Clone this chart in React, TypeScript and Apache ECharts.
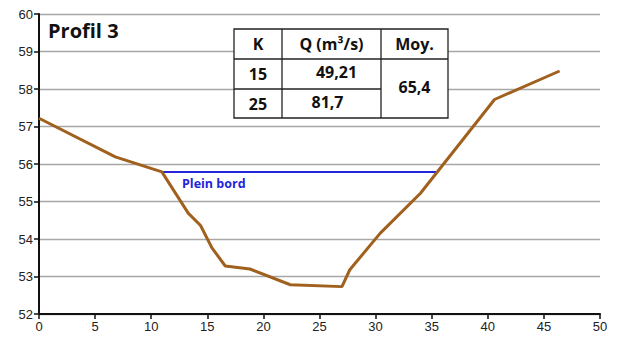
import React, { useEffect, useRef } from "react";
import * as echarts from "echarts";

const profileX = [0, 6.8, 10.95, 13.3, 14.4, 15.4, 16.6, 18.8, 22.4, 27.0, 27.7, 30.4, 34.0, 40.6, 46.4];
const profileY = [57.22, 56.19, 55.79, 54.69, 54.36, 53.77, 53.28, 53.2, 52.78, 52.73, 53.18, 54.15, 55.22, 57.72, 58.48];
const bankX = [10.95, 35.44];
const bankY = [55.79, 55.79];

const tableHeader = ["K", "Q (m³/s)", "Moy."];
const tableK = ["15", "25"];
const tableQ = ["49,21", "81,7"];
const tableMean = "65,4";

export default function App() {
  const ref = useRef<HTMLDivElement>(null);
  useEffect(() => {
    document.body.style.margin = "0";
    const chart = echarts.init(ref.current!, null, { renderer: "svg" });
    const fontT = "'Open Sans', 'Noto Sans', sans-serif";
    const tl = 234, tt = 29, c1 = 282, c2 = 381, tr = 448, r1 = 59, r2 = 89, tb = 118;
    const txt = (x: number, y: number, s: string) => ({
      type: "text", x, y,
      style: { text: s, font: `bold 16px ${fontT}`, fill: "#111", align: "center", verticalAlign: "middle" },
      z: 11,
    });
    const ln = (x1: number, y1: number, x2: number, y2: number) => ({
      type: "line", shape: { x1, y1, x2, y2 }, style: { stroke: "#222", lineWidth: 1.3 }, z: 11,
    });
    chart.setOption({
      animation: false,
      grid: { left: 39, right: 18, top: 14, bottom: 24 },
      xAxis: {
        type: "value", min: 0, max: 50, interval: 5,
        axisLine: { show: true, onZero: false, lineStyle: { color: "#111", width: 2 } },
        axisTick: { show: true, length: 5, lineStyle: { color: "#111", width: 1.5 } },
        axisLabel: { color: "#222", fontSize: 13, fontFamily: "'Liberation Sans', Arial, sans-serif", margin: 6 },
        splitLine: { show: false },
      },
      yAxis: {
        type: "value", min: 52, max: 60, interval: 1,
        axisLine: { show: true, onZero: false, lineStyle: { color: "#111", width: 2 } },
        axisTick: { show: true, length: 5, lineStyle: { color: "#111", width: 1.5 } },
        axisLabel: { color: "#222", fontSize: 13, fontFamily: "'Liberation Sans', Arial, sans-serif", margin: 6 },
        splitLine: { show: true, lineStyle: { color: "#a8a8a8", width: 1.3 } },
      },
      series: [
        {
          type: "line",
          data: bankX.map((x, i) => [x, bankY[i]]),
          showSymbol: false,
          lineStyle: { color: "#2424d8", width: 2 },
          z: 3,
        },
        {
          type: "line",
          data: profileX.map((x, i) => [x, profileY[i]]),
          showSymbol: false,
          lineStyle: { color: "#a0601e", width: 3 },
          z: 4,
        },
      ],
      graphic: [
        {
          type: "text", left: 48, top: 20,
          style: { text: "Profil 3", font: `bold 20px ${fontT}`, fill: "#111" },
        },
        {
          type: "text", x: 182, y: 183,
          style: { text: "Plein bord", font: `bold 12.5px ${fontT}`, fill: "#2424d8", verticalAlign: "middle" },
        },
        {
          type: "rect", shape: { x: tl, y: tt, width: tr - tl, height: tb - tt },
          style: { fill: "#fff", stroke: "#222", lineWidth: 1.3 }, z: 10,
        },
        ln(c1, tt, c1, tb),
        ln(c2, tt, c2, tb),
        ln(tl, r1, c2, r1),
        ln(tr, r1, c2, r1),
        ln(tl, r2, c2, r2),
        txt((tl + c1) / 2, (tt + r1) / 2, tableHeader[0]),
        txt((c1 + c2) / 2, (tt + r1) / 2, tableHeader[1]),
        txt((c2 + tr) / 2, (tt + r1) / 2, tableHeader[2]),
        txt((tl + c1) / 2, (r1 + r2) / 2, tableK[0]),
        txt((tl + c1) / 2, (r2 + tb) / 2, tableK[1]),
        txt((c1 + c2) / 2 + 5, (r1 + r2) / 2 - 2, tableQ[0]),
        txt((c1 + c2) / 2 - 4, (r2 + tb) / 2 - 2, tableQ[1]),
        txt((c2 + tr) / 2, (r1 + tb) / 2 - 2, tableMean),
      ],
    });
    return () => chart.dispose();
  }, []);
  return <div ref={ref} style={{ position: "fixed", left: 0, top: 0, width: 618, height: 338, background: "#fff" }} />;
}
